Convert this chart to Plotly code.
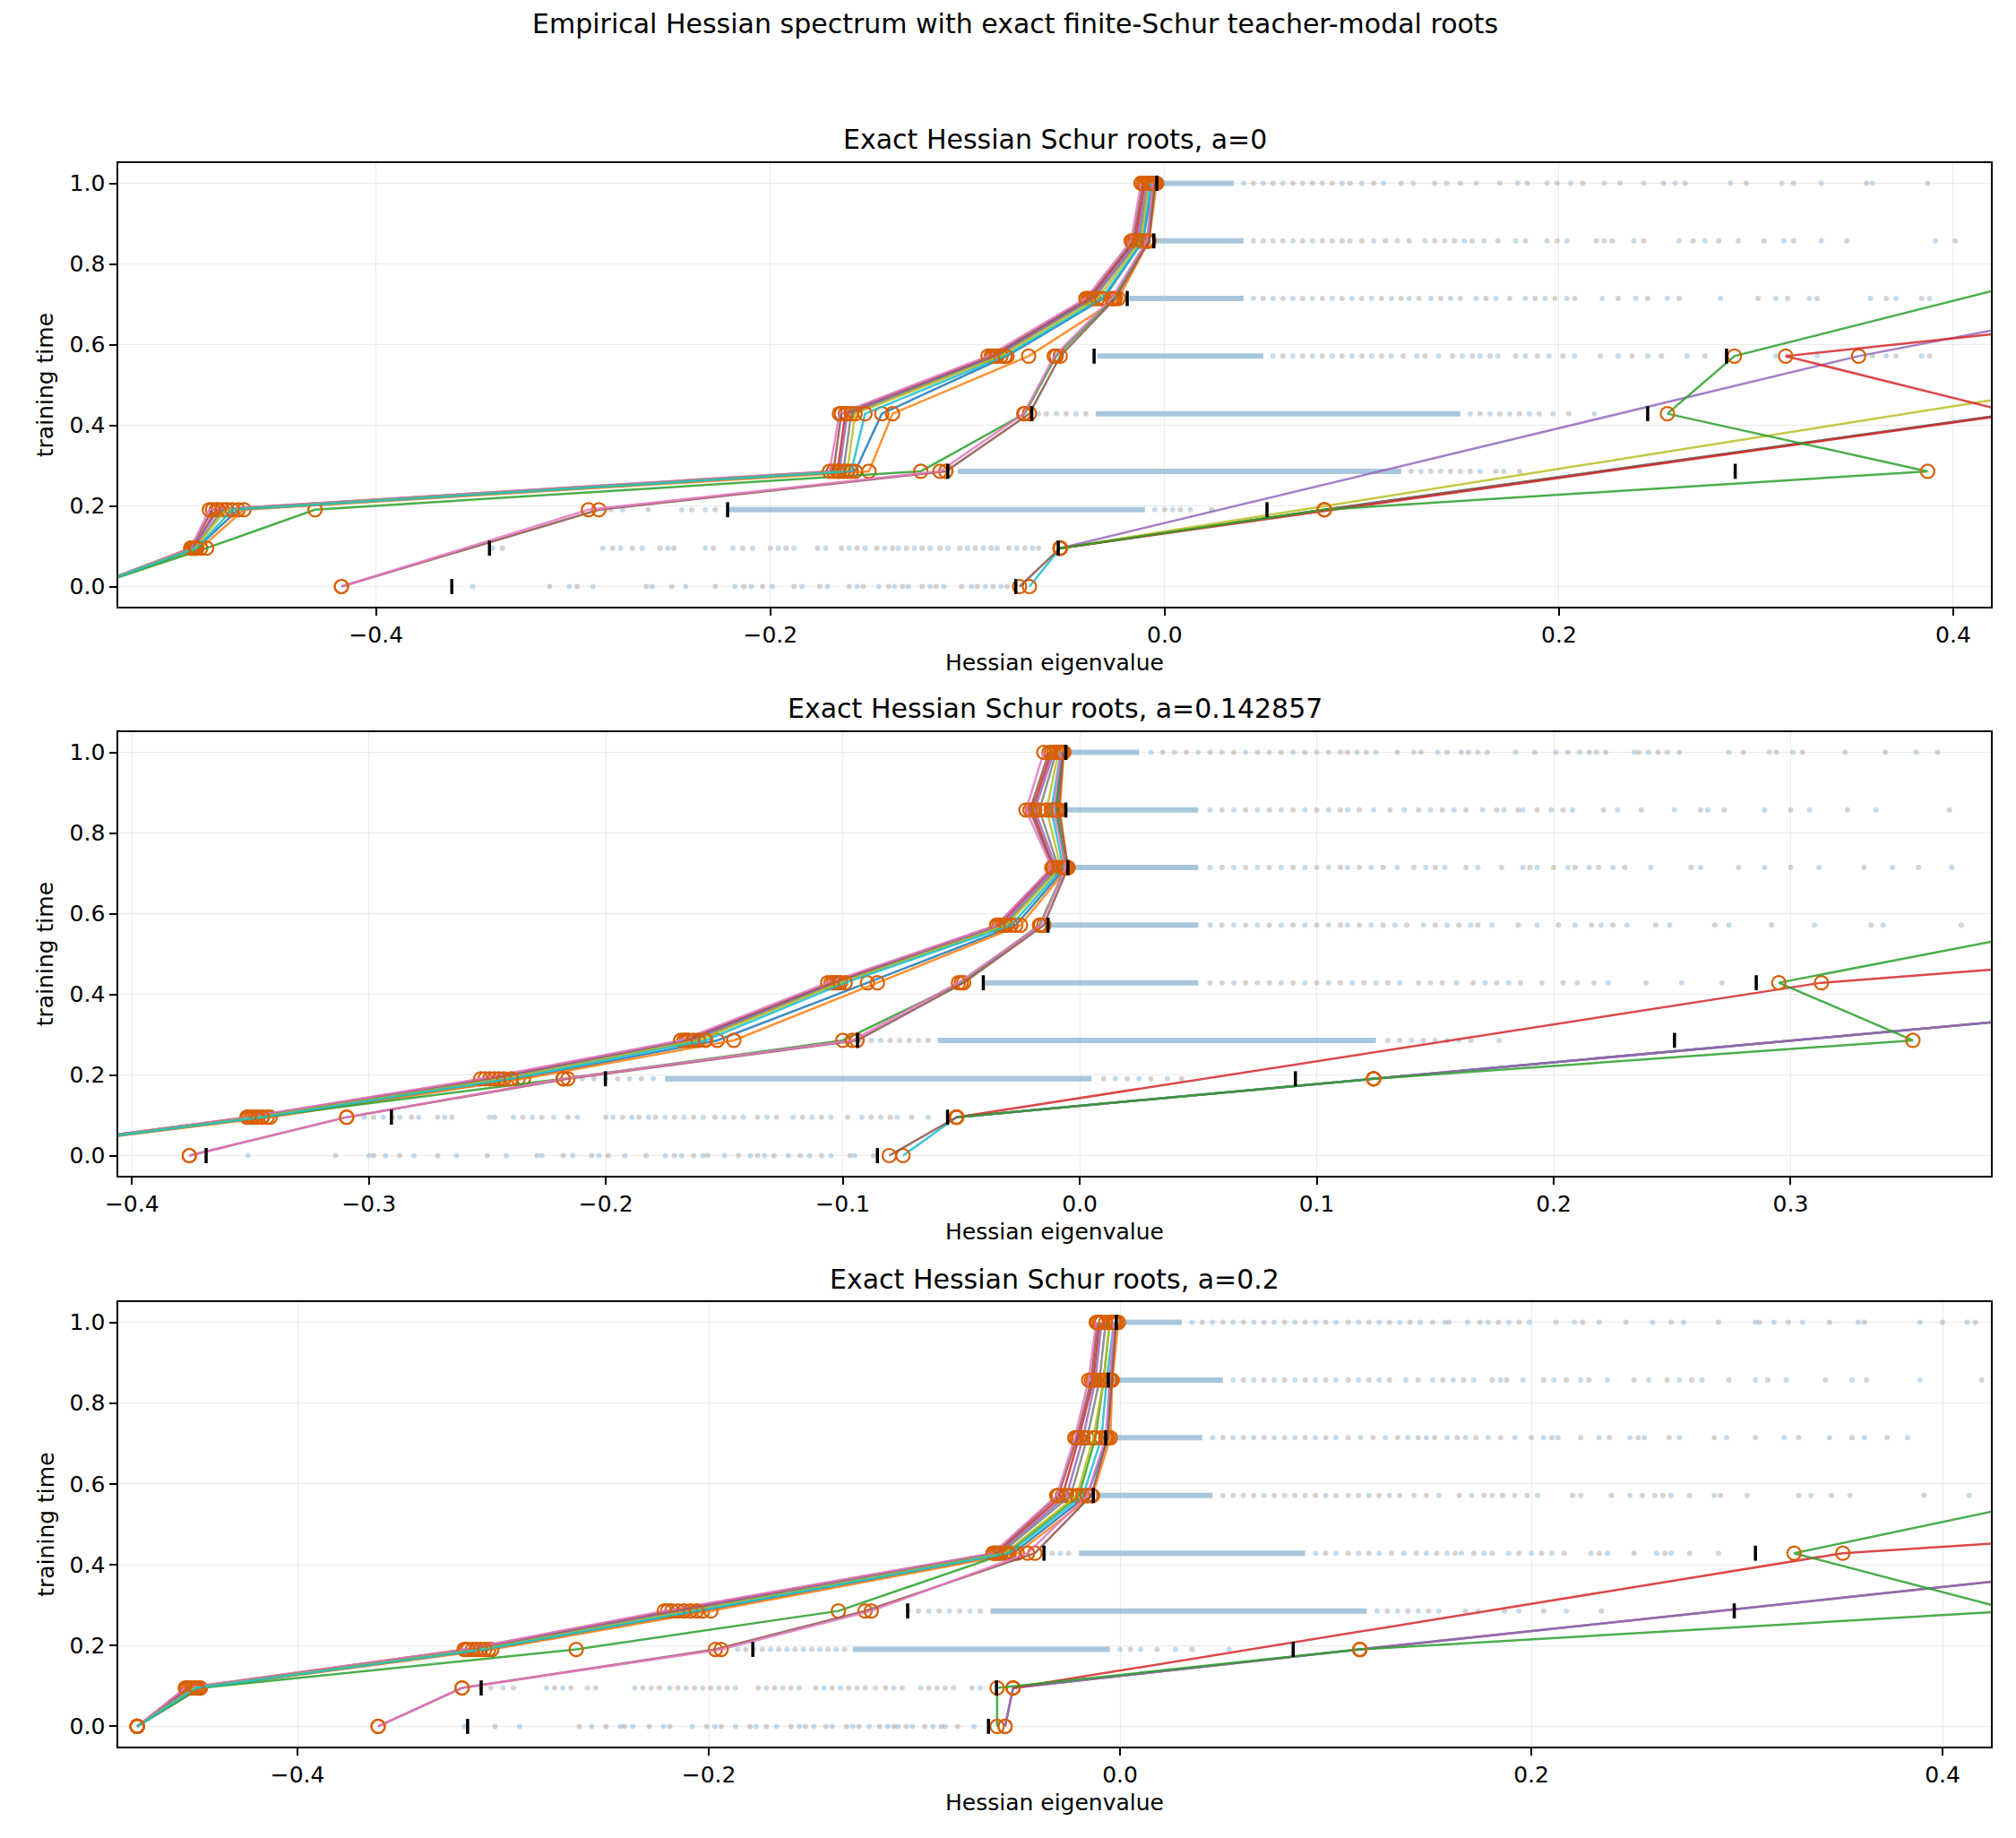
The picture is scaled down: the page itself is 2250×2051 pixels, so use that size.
import plotly.graph_objects as go

N = None
TIMES = [0.0, 0.0952, 0.1905, 0.2857, 0.4286, 0.5714, 0.7143, 0.8571, 1.0]

SUPTITLE = "Empirical Hessian spectrum with exact finite-Schur teacher-modal roots"
PANEL_TITLES = ["Exact Hessian Schur roots, a=0",
                "Exact Hessian Schur roots, a=0.142857",
                "Exact Hessian Schur roots, a=0.2"]
X_LABEL = "Hessian eigenvalue"
Y_LABEL = "training time"
Y_TICKS = [0.0, 0.2, 0.4, 0.6, 0.8, 1.0]
Y_TICKTEXT = ["0.0", "0.2", "0.4", "0.6", "0.8", "1.0"]
X_TICKS_A0 = [-0.4, -0.2, 0.0, 0.2, 0.4]
X_TICKTEXT_A0 = ["\u22120.4", "\u22120.2", "0.0", "0.2", "0.4"]
X_TICKS_A1 = [-0.4, -0.3, -0.2, -0.1, 0.0, 0.1, 0.2, 0.3]
X_TICKTEXT_A1 = ["\u22120.4", "\u22120.3", "\u22120.2", "\u22120.1", "0.0", "0.1", "0.2", "0.3"]
X_TICKS_A2 = [-0.4, -0.2, 0.0, 0.2, 0.4]
X_TICKTEXT_A2 = ["\u22120.4", "\u22120.2", "0.0", "0.2", "0.4"]

# ---- exact Schur root tracks (one value per training time, None = absent) ----
ROOTS_A0 = [
    [-0.545, -0.491, -0.470, -0.157, -0.1435, -0.080, -0.031, -0.011, -0.006],
    [-0.545, -0.489, -0.467, -0.150, -0.138, -0.069, -0.0235, -0.008, -0.004],
    [-0.545, -0.486, -0.431, -0.1237, -0.071, -0.055, -0.026, -0.009, -0.005],
    [-0.545, -0.493, -0.481, -0.166, -0.162, -0.087, -0.038, -0.015, -0.010],
    [-0.545, -0.493, -0.480, -0.165, -0.161, -0.086, -0.037, -0.014, -0.009],
    [-0.545, -0.494, -0.483, -0.168, -0.164, -0.088, -0.039, -0.016, -0.011],
    [-0.545, -0.494, -0.4846, -0.170, -0.165, -0.0896, -0.040, -0.017, -0.012],
    [-0.545, -0.492, -0.478, -0.163, -0.159, -0.085, -0.036, -0.013, -0.008],
    [-0.545, -0.492, -0.476, -0.161, -0.157, -0.083, -0.034, -0.012, -0.008],
    [-0.545, -0.491, -0.473, -0.159, -0.152, -0.081, -0.032, -0.011, -0.007],
    [-0.4176, N, -0.287, -0.111, -0.0686, -0.053, -0.025, -0.008, -0.005],
    [-0.4176, N, -0.2923, -0.114, -0.0715, -0.056, -0.027, -0.009, -0.006],
    [-0.0686, -0.053, 0.081, N, 0.43, N, N, N, N],
    [-0.0736, -0.053, 0.081, N, 0.43, N, N, N, N],
    [N, -0.053, N, N, N, 0.56, N, N, N],
    [N, -0.053, N, N, N, 0.352, 0.504, N, N],
    [N, -0.053, N, N, 0.432, 0.315, 0.59, N, N],
    [N, -0.053, 0.081, 0.387, 0.255, 0.289, N, 0.52, N],
]
ROOTS_A1 = [
    [-0.474, -0.343, -0.237, -0.153, -0.0896, -0.027, -0.006, -0.010, -0.0075],
    [-0.474, -0.3417, -0.2348, -0.146, -0.0854, -0.025, -0.005, -0.0084, -0.0067],
    [-0.474, -0.345, -0.218, -0.100, -0.050, -0.017, -0.006, -0.010, -0.008],
    [-0.474, -0.350, -0.249, -0.166, -0.104, -0.034, -0.011, -0.020, -0.012],
    [-0.474, -0.349, -0.247, -0.165, -0.103, -0.033, -0.010, -0.019, -0.011],
    [-0.474, -0.351, -0.251, -0.167, -0.105, -0.035, -0.0115, -0.021, -0.013],
    [-0.474, -0.3515, -0.2528, -0.1684, -0.1064, -0.035, -0.0118, -0.0227, -0.0152],
    [-0.474, -0.348, -0.245, -0.163, -0.102, -0.032, -0.009, -0.017, -0.010],
    [-0.474, -0.347, -0.243, -0.161, -0.101, -0.031, -0.008, -0.014, -0.009],
    [-0.474, -0.345, -0.240, -0.158, -0.099, -0.029, -0.007, -0.012, -0.008],
    [-0.3758, -0.3094, -0.216, -0.094, -0.049, -0.0152, -0.005, -0.009, -0.007],
    [-0.3758, -0.3094, -0.218, -0.096, -0.0512, -0.0165, -0.006, -0.011, -0.008],
    [-0.0746, -0.052, 0.124, N, 0.567, N, N, N, N],
    [-0.0804, -0.052, 0.124, N, 0.567, N, N, N, N],
    [N, -0.052, 0.124, N, 0.567, N, N, N, N],
    [N, -0.052, N, N, 0.313, 0.627, N, N, N],
    [N, -0.052, 0.124, 0.3516, 0.295, 0.421, N, N, N],
]
ROOTS_A2 = [
    [-0.478, -0.448, -0.307, -0.203, -0.052, -0.016, -0.006, -0.005, -0.002],
    [-0.478, -0.4473, -0.3055, -0.199, -0.050, -0.0134, -0.0047, -0.0038, -0.0008],
    [-0.478, -0.4473, -0.2645, -0.137, -0.055, -0.020, -0.012, -0.008, -0.005],
    [-0.478, -0.453, -0.317, -0.218, -0.060, -0.028, -0.020, -0.013, -0.010],
    [-0.478, -0.452, -0.315, -0.215, -0.059, -0.026, -0.018, -0.012, -0.009],
    [-0.478, -0.454, -0.318, -0.220, -0.061, -0.030, -0.021, -0.014, -0.011],
    [-0.478, -0.4546, -0.319, -0.2216, -0.0618, -0.0308, -0.022, -0.0153, -0.0116],
    [-0.478, -0.451, -0.313, -0.212, -0.058, -0.024, -0.016, -0.010, -0.007],
    [-0.478, -0.450, -0.311, -0.209, -0.056, -0.021, -0.013, -0.008, -0.005],
    [-0.478, -0.449, -0.309, -0.206, -0.054, -0.018, -0.009, -0.0065, -0.003],
    [-0.3608, -0.320, -0.1968, -0.124, -0.0414, -0.014, -0.006, -0.004, -0.002],
    [-0.3608, -0.320, -0.194, -0.121, -0.045, -0.016, -0.007, -0.005, -0.003],
    [-0.0559, -0.052, 0.1166, N, 0.553, N, N, N, N],
    [-0.0559, -0.052, 0.1166, N, 0.553, N, N, N, N],
    [N, -0.052, N, N, 0.3515, 0.79, N, N, N],
    [-0.0598, -0.0598, 0.1166, 0.435, 0.3278, 0.461, N, N, N],
]

# ---- black reference ticks (time, eigenvalue) ----
TICK_T_A0 = [0.0, 0.0, 0.0952, 0.0952, 0.1905, 0.1905, 0.2857, 0.2857, 0.4286, 0.4286, 0.5714, 0.5714, 0.7143, 0.8571, 1.0]
TICK_X_A0 = [-0.3616, -0.0755, -0.3425, -0.054, -0.2217, 0.0519, -0.110, 0.2894, -0.0674, 0.245, -0.0358, 0.285, -0.019, -0.0055, -0.004]
TICK_T_A1 = [0.0, 0.0, 0.0952, 0.0952, 0.1905, 0.1905, 0.2857, 0.2857, 0.4286, 0.4286, 0.5714, 0.7143, 0.8571, 1.0]
TICK_X_A1 = [-0.3687, -0.0854, -0.2905, -0.0558, -0.2002, 0.091, -0.0938, 0.251, -0.0407, 0.2855, -0.0134, -0.005, -0.0059, -0.0059]
TICK_T_A2 = [0.0, 0.0, 0.0952, 0.0952, 0.1905, 0.1905, 0.2857, 0.2857, 0.4286, 0.4286, 0.5714, 0.7143, 0.8571, 1.0]
TICK_X_A2 = [-0.3173, -0.064, -0.3107, -0.0601, -0.1786, 0.0842, -0.1033, 0.2987, -0.037, 0.309, -0.013, -0.007, -0.0057, -0.0018]

# ---- empirical spectrum: dense band [lo, hi] and sparse eigenvalues per time ----
BANDS_A0 = [N, N, [-0.222, -0.01], [-0.105, 0.12], [-0.035, 0.15], [-0.034, 0.05],
            [-0.018, 0.04], [-0.004, 0.04], [-0.003, 0.035]]
DOTS_A0 = [
    [-0.351, -0.312, -0.302, -0.298, -0.290, -0.263, -0.260, -0.250, -0.243, -0.228, -0.218, -0.2135, -0.2096,
     -0.204, -0.199, -0.188, -0.184, -0.175, -0.171, -0.160, -0.156, -0.153, -0.145, -0.140, -0.137, -0.133,
     -0.130, -0.123, -0.119, -0.116, -0.112, -0.103, -0.098, -0.095, -0.091, -0.087, -0.083, -0.080],
    [-0.341, -0.336, -0.285, -0.280, -0.276, -0.270, -0.265, -0.256, -0.252, -0.249, -0.233, -0.229, -0.219,
     -0.214, -0.209, -0.200, -0.196, -0.192, -0.188, -0.176, -0.172, -0.164, -0.160, -0.156, -0.152, -0.146,
     -0.142, -0.138, -0.135, -0.131, -0.127, -0.123, -0.119, -0.114, -0.110, -0.104, -0.100, -0.096, -0.092,
     -0.088, -0.085, -0.079, -0.075, -0.071, -0.067, -0.064],
    [-0.284, -0.281, -0.275, -0.262, -0.245, -0.240, -0.233, -0.228, -0.005, 0.0, 0.004, 0.008, 0.013, 0.024],
    [-0.108, 0.125, 0.13, 0.135, 0.14, 0.145, 0.15, 0.155, 0.16, 0.168, 0.172, 0.18],
    [-0.064, -0.06, -0.055, -0.05, -0.045, -0.04, 0.155, 0.16, 0.165, 0.17, 0.175, 0.18, 0.185, 0.19, 0.197,
     0.205, 0.218],
    [0.055, 0.06, 0.065, 0.07, 0.075, 0.08, 0.085, 0.09, 0.095, 0.10, 0.105, 0.11, 0.115, 0.121, 0.128, 0.132,
     0.139, 0.146, 0.151, 0.156, 0.160, 0.165, 0.169, 0.178, 0.183, 0.189, 0.195, 0.202, 0.208, 0.221, 0.230,
     0.237, 0.245, 0.252, 0.265, 0.274, 0.310, 0.316, 0.331, 0.359, 0.366, 0.371, 0.384, 0.388],
    [0.045, 0.05, 0.055, 0.06, 0.065, 0.07, 0.075, 0.08, 0.085, 0.09, 0.095, 0.10, 0.105, 0.11, 0.115, 0.12,
     0.124, 0.129, 0.135, 0.14, 0.145, 0.15, 0.158, 0.163, 0.168, 0.175, 0.183, 0.188, 0.193, 0.198, 0.204,
     0.208, 0.222, 0.230, 0.239, 0.245, 0.255, 0.261, 0.282, 0.301, 0.310, 0.316, 0.327, 0.331, 0.358, 0.366,
     0.371, 0.384, 0.388],
    [0.045, 0.05, 0.055, 0.06, 0.065, 0.07, 0.075, 0.08, 0.085, 0.09, 0.094, 0.10, 0.106, 0.112, 0.118, 0.124,
     0.132, 0.137, 0.142, 0.147, 0.152, 0.156, 0.162, 0.169, 0.178, 0.183, 0.194, 0.199, 0.204, 0.219, 0.223,
     0.227, 0.238, 0.243, 0.261, 0.268, 0.274, 0.281, 0.291, 0.304, 0.314, 0.319, 0.333, 0.346, 0.391, 0.401],
    [0.04, 0.045, 0.05, 0.055, 0.06, 0.065, 0.07, 0.075, 0.08, 0.085, 0.09, 0.094, 0.100, 0.106, 0.111, 0.120,
     0.126, 0.137, 0.143, 0.150, 0.158, 0.170, 0.179, 0.184, 0.194, 0.199, 0.206, 0.212, 0.223, 0.231, 0.243,
     0.253, 0.259, 0.264, 0.287, 0.295, 0.313, 0.319, 0.333, 0.356, 0.359, 0.387],
]
BANDS_A1 = [N, N, [-0.175, 0.005], [-0.06, 0.125], [-0.04, 0.05], [-0.013, 0.05],
            [-0.005, 0.05], [-0.006, 0.05], [-0.006, 0.025]]
DOTS_A1 = [
    [-0.351, -0.314, -0.300, -0.298, -0.293, -0.287, -0.281, -0.271, -0.263, -0.250, -0.242, -0.229, -0.227,
     -0.218, -0.214, -0.206, -0.203, -0.199, -0.192, -0.183, -0.175, -0.171, -0.168, -0.163, -0.159, -0.157,
     -0.150, -0.144, -0.139, -0.136, -0.133, -0.129, -0.123, -0.118, -0.114, -0.109, -0.105, -0.097, -0.095,
     -0.087],
    [-0.302, -0.298, -0.294, -0.290, -0.287, -0.282, -0.279, -0.271, -0.268, -0.265, -0.249, -0.247, -0.239,
     -0.235, -0.231, -0.227, -0.222, -0.216, -0.212, -0.200, -0.197, -0.193, -0.189, -0.186, -0.182, -0.179,
     -0.175, -0.171, -0.167, -0.163, -0.159, -0.154, -0.150, -0.146, -0.142, -0.136, -0.132, -0.128, -0.121,
     -0.117, -0.113, -0.109, -0.105, -0.098, -0.092, -0.088, -0.084, -0.080, -0.077, -0.071, -0.064],
    [-0.21, -0.205, -0.20, -0.195, -0.19, -0.185, -0.18, 0.01, 0.015, 0.02, 0.025, 0.03, 0.037, 0.043],
    [-0.092, -0.088, -0.084, -0.080, -0.076, -0.072, -0.068, -0.064, 0.13, 0.135, 0.14, 0.145, 0.15, 0.155,
     0.16, 0.165, 0.177],
    [0.055, 0.06, 0.065, 0.07, 0.075, 0.08, 0.085, 0.09, 0.095, 0.10, 0.105, 0.11, 0.115, 0.12, 0.125, 0.13,
     0.135, 0.143, 0.148, 0.153, 0.159, 0.166, 0.171, 0.176, 0.181, 0.186, 0.195, 0.204, 0.21, 0.217, 0.223,
     0.239, 0.254, 0.271],
    [0.055, 0.06, 0.065, 0.07, 0.075, 0.08, 0.085, 0.09, 0.095, 0.10, 0.105, 0.11, 0.113, 0.118, 0.123, 0.128,
     0.133, 0.138, 0.145, 0.150, 0.155, 0.160, 0.165, 0.168, 0.174, 0.185, 0.193, 0.202, 0.209, 0.216, 0.220,
     0.225, 0.231, 0.243, 0.249, 0.268, 0.274, 0.292, 0.310, 0.334, 0.339, 0.372],
    [0.055, 0.06, 0.065, 0.07, 0.075, 0.08, 0.085, 0.09, 0.095, 0.10, 0.105, 0.11, 0.113, 0.118, 0.123, 0.128,
     0.134, 0.141, 0.146, 0.150, 0.154, 0.163, 0.168, 0.178, 0.187, 0.190, 0.193, 0.200, 0.206, 0.209, 0.215,
     0.219, 0.225, 0.230, 0.241, 0.258, 0.262, 0.278, 0.289, 0.300, 0.312, 0.331, 0.343, 0.354, 0.368],
    [0.055, 0.06, 0.065, 0.07, 0.075, 0.08, 0.085, 0.09, 0.095, 0.10, 0.105, 0.11, 0.113, 0.118, 0.124, 0.131,
     0.137, 0.143, 0.148, 0.153, 0.158, 0.163, 0.170, 0.176, 0.179, 0.185, 0.187, 0.193, 0.199, 0.204, 0.208,
     0.221, 0.227, 0.237, 0.251, 0.262, 0.265, 0.272, 0.289, 0.300, 0.308, 0.324, 0.336, 0.367],
    [0.03, 0.035, 0.04, 0.045, 0.05, 0.055, 0.06, 0.065, 0.07, 0.075, 0.08, 0.085, 0.09, 0.095, 0.10, 0.105,
     0.11, 0.113, 0.117, 0.121, 0.125, 0.134, 0.141, 0.144, 0.151, 0.155, 0.161, 0.164, 0.168, 0.172, 0.184,
     0.192, 0.201, 0.206, 0.211, 0.215, 0.218, 0.222, 0.234, 0.236, 0.240, 0.244, 0.248, 0.253, 0.274, 0.280,
     0.291, 0.294, 0.301, 0.305, 0.323, 0.340, 0.353, 0.362],
]
BANDS_A2 = [N, N, [-0.13, -0.005], [-0.063, 0.12], [-0.02, 0.09], [-0.012, 0.045],
            [-0.007, 0.04], [-0.005, 0.05], [-0.002, 0.03]]
DOTS_A2 = [
    [-0.319, -0.304, -0.292, -0.263, -0.257, -0.250, -0.243, -0.241, -0.237, -0.229, -0.222, -0.219, -0.208,
     -0.201, -0.197, -0.194, -0.187, -0.180, -0.177, -0.172, -0.167, -0.160, -0.156, -0.153, -0.149, -0.143,
     -0.140, -0.133, -0.130, -0.127, -0.122, -0.117, -0.113, -0.110, -0.108, -0.104, -0.101, -0.095, -0.091,
     -0.087, -0.085, -0.079, -0.071],
    [-0.311, -0.306, -0.300, -0.295, -0.279, -0.275, -0.271, -0.267, -0.259, -0.255, -0.236, -0.232, -0.228,
     -0.224, -0.219, -0.215, -0.211, -0.207, -0.203, -0.199, -0.195, -0.191, -0.187, -0.176, -0.172, -0.168,
     -0.164, -0.160, -0.156, -0.148, -0.144, -0.140, -0.136, -0.132, -0.128, -0.124, -0.119, -0.114, -0.110,
     -0.106, -0.097, -0.093, -0.089, -0.085, -0.081, -0.072, -0.068],
    [-0.186, -0.182, -0.178, -0.174, -0.170, -0.166, -0.162, -0.158, -0.154, -0.150, -0.146, -0.142, -0.138,
     -0.134, 0.0, 0.005, 0.010, 0.018, 0.027, 0.035, 0.053],
    [-0.103, -0.098, -0.093, -0.088, -0.083, -0.078, -0.073, -0.068, 0.125, 0.13, 0.135, 0.14, 0.145, 0.15,
     0.155, 0.168, 0.174, 0.187, 0.194, 0.206, 0.217, 0.234],
    [-0.037, -0.033, -0.029, -0.025, 0.095, 0.10, 0.105, 0.111, 0.116, 0.121, 0.126, 0.132, 0.138, 0.144,
     0.149, 0.154, 0.159, 0.163, 0.166, 0.172, 0.177, 0.181, 0.189, 0.194, 0.200, 0.205, 0.210, 0.216, 0.229,
     0.233, 0.237, 0.250, 0.261, 0.265, 0.268, 0.277, 0.291],
    [0.05, 0.055, 0.06, 0.065, 0.07, 0.075, 0.08, 0.085, 0.09, 0.095, 0.10, 0.105, 0.111, 0.116, 0.121, 0.126,
     0.131, 0.136, 0.143, 0.149, 0.155, 0.165, 0.171, 0.177, 0.181, 0.186, 0.192, 0.198, 0.203, 0.220, 0.224,
     0.239, 0.248, 0.254, 0.260, 0.264, 0.268, 0.277, 0.289, 0.292, 0.305, 0.330, 0.336, 0.346, 0.355, 0.391,
     0.413],
    [0.045, 0.05, 0.055, 0.06, 0.065, 0.07, 0.075, 0.08, 0.085, 0.09, 0.095, 0.10, 0.105, 0.111, 0.117, 0.123,
     0.129, 0.135, 0.140, 0.145, 0.149, 0.153, 0.159, 0.164, 0.168, 0.173, 0.179, 0.185, 0.192, 0.200, 0.206,
     0.210, 0.213, 0.224, 0.233, 0.238, 0.248, 0.252, 0.255, 0.267, 0.272, 0.289, 0.295, 0.309, 0.323, 0.330,
     0.345, 0.356, 0.362, 0.373, 0.383],
    [0.055, 0.06, 0.065, 0.07, 0.075, 0.08, 0.085, 0.09, 0.095, 0.10, 0.105, 0.111, 0.116, 0.121, 0.126, 0.131,
     0.139, 0.145, 0.152, 0.157, 0.162, 0.167, 0.172, 0.181, 0.185, 0.188, 0.196, 0.206, 0.211, 0.217, 0.224,
     0.228, 0.237, 0.250, 0.257, 0.266, 0.272, 0.278, 0.283, 0.296, 0.309, 0.315, 0.324, 0.343, 0.356, 0.363,
     0.389, 0.419],
    [0.035, 0.04, 0.045, 0.05, 0.055, 0.06, 0.065, 0.07, 0.075, 0.08, 0.085, 0.09, 0.095, 0.10, 0.105, 0.111,
     0.116, 0.121, 0.126, 0.131, 0.136, 0.141, 0.146, 0.152, 0.158, 0.160, 0.169, 0.175, 0.179, 0.184, 0.189,
     0.194, 0.199, 0.212, 0.221, 0.225, 0.233, 0.246, 0.259, 0.268, 0.274, 0.291, 0.309, 0.311, 0.318, 0.325,
     0.332, 0.345, 0.359, 0.362, 0.389, 0.400, 0.412, 0.416],
]

# ---------------------------- styling ----------------------------
TAB10 = ["#1f77b4", "#ff7f0e", "#2ca02c", "#d62728", "#9467bd",
         "#8c564b", "#e377c2", "#7f7f7f", "#bcbd22", "#17becf"]
COLORS_A0 = [0, 1, 2, 3, 4, 5, 6, 7, 8, 9, 5, 6, 9, 5, 8, 4, 3, 2]
COLORS_A1 = [0, 1, 2, 3, 4, 5, 6, 7, 8, 9, 5, 6, 9, 5, 4, 3, 2]
COLORS_A2 = [0, 1, 2, 3, 4, 5, 6, 7, 8, 9, 5, 6, 5, 4, 3, 2]

W, H = 2250, 2051
PLOT_L, PLOT_R = 118, 2222
PANEL_PX = [(182, 677), (817, 1312), (1453, 1949)]
XRANGES = [[-0.5307, 0.4192], [-0.4057, 0.3846], [-0.4871, 0.4236]]
FONT = "DejaVu Sans"
MARKER_COLOR = "#d95f02"
TICK_FS = 25
TITLE_FS = 30


def rgba(hexc, a):
    h = hexc.lstrip("#")
    return "rgba(%d,%d,%d,%.2f)" % (int(h[0:2], 16), int(h[2:4], 16), int(h[4:6], 16), a)


panels = [
    (ROOTS_A0, COLORS_A0, TICK_T_A0, TICK_X_A0, BANDS_A0, DOTS_A0, X_TICKS_A0, X_TICKTEXT_A0),
    (ROOTS_A1, COLORS_A1, TICK_T_A1, TICK_X_A1, BANDS_A1, DOTS_A1, X_TICKS_A1, X_TICKTEXT_A1),
    (ROOTS_A2, COLORS_A2, TICK_T_A2, TICK_X_A2, BANDS_A2, DOTS_A2, X_TICKS_A2, X_TICKTEXT_A2),
]

fig = go.Figure()
layout = dict(width=W, height=H, margin=dict(l=0, r=0, t=0, b=0),
              paper_bgcolor="white", plot_bgcolor="white", showlegend=False,
              font=dict(family=FONT, size=TICK_FS, color="black"), annotations=[])

for p, (roots, cols, tt, tx, bands, dots, xt, xtt) in enumerate(panels):
    xa = "x" if p == 0 else "x%d" % (p + 1)
    ya = "y" if p == 0 else "y%d" % (p + 1)
    # empirical spectrum bands
    for i, b in enumerate(bands):
        if b is None:
            continue
        fig.add_trace(go.Scatter(x=b, y=[TIMES[i], TIMES[i]], xaxis=xa, yaxis=ya, mode="lines",
                                 line=dict(color="rgba(135,178,207,0.72)", width=6),
                                 hoverinfo="skip"))
    # empirical spectrum dots (two tones)
    for tone, colr in enumerate(["rgba(110,165,205,0.40)", "rgba(140,140,140,0.38)"]):
        xs, ys = [], []
        for i, row in enumerate(dots):
            for j, v in enumerate(row):
                if j % 2 == tone:
                    xs.append(v)
                    ys.append(TIMES[i])
        fig.add_trace(go.Scatter(x=xs, y=ys, xaxis=xa, yaxis=ya, mode="markers",
                                 marker=dict(size=6, color=colr, line=dict(width=0)),
                                 hoverinfo="skip"))
    # Schur root tracks
    for k, track in enumerate(roots):
        fig.add_trace(go.Scatter(x=track, y=TIMES, xaxis=xa, yaxis=ya, mode="lines+markers",
                                 connectgaps=True,
                                 line=dict(color=rgba(TAB10[cols[k]], 0.85), width=2.5),
                                 marker=dict(symbol="circle-open", size=15, color=MARKER_COLOR,
                                             line=dict(width=2.2, color=MARKER_COLOR)),
                                 hoverinfo="skip"))
    # reference ticks
    fig.add_trace(go.Scatter(x=tx, y=tt, xaxis=xa, yaxis=ya, mode="markers",
                             marker=dict(symbol="line-ns", size=12, color="black",
                                         line=dict(width=3.5, color="black")),
                             hoverinfo="skip"))

    top, bot = PANEL_PX[p]
    axis_common = dict(showgrid=True, gridcolor="#ebebeb", gridwidth=1.3, zeroline=False,
                       showline=True, linecolor="black", linewidth=1.7, mirror=True,
                       ticks="outside", ticklen=8, tickwidth=1.7, tickcolor="black",
                       tickfont=dict(family=FONT, size=TICK_FS, color="black"))
    layout["xaxis" if p == 0 else "xaxis%d" % (p + 1)] = dict(
        domain=[PLOT_L / W, PLOT_R / W], range=XRANGES[p], anchor=ya,
        tickmode="array", tickvals=xt, ticktext=xtt, **axis_common)
    layout["yaxis" if p == 0 else "yaxis%d" % (p + 1)] = dict(
        domain=[1 - bot / H, 1 - top / H], range=[-0.05, 1.05], anchor=xa,
        tickmode="array", tickvals=Y_TICKS, ticktext=Y_TICKTEXT, **axis_common)

    cx = (PLOT_L + PLOT_R) / 2 / W
    layout["annotations"].append(dict(text=PANEL_TITLES[p], x=cx, y=1 - (top - 26) / H,
                                      xref="paper", yref="paper", showarrow=False,
                                      xanchor="center", yanchor="middle",
                                      font=dict(family=FONT, size=TITLE_FS, color="black")))
    layout["annotations"].append(dict(text=X_LABEL, x=cx, y=1 - (bot + 62) / H,
                                      xref="paper", yref="paper", showarrow=False,
                                      xanchor="center", yanchor="middle",
                                      font=dict(family=FONT, size=TICK_FS, color="black")))
    layout["annotations"].append(dict(text=Y_LABEL, x=36 / W, y=1 - (top + bot) / 2 / H,
                                      xref="paper", yref="paper", showarrow=False, textangle=-90,
                                      xanchor="center", yanchor="middle",
                                      font=dict(family=FONT, size=TICK_FS, color="black")))

layout["annotations"].append(dict(text=SUPTITLE, x=0.5, y=1 - 26 / H, xref="paper", yref="paper",
                                  showarrow=False, xanchor="center", yanchor="middle",
                                  font=dict(family=FONT, size=TITLE_FS, color="black")))

fig.update_layout(**layout)
fig.write_html("out.html")
